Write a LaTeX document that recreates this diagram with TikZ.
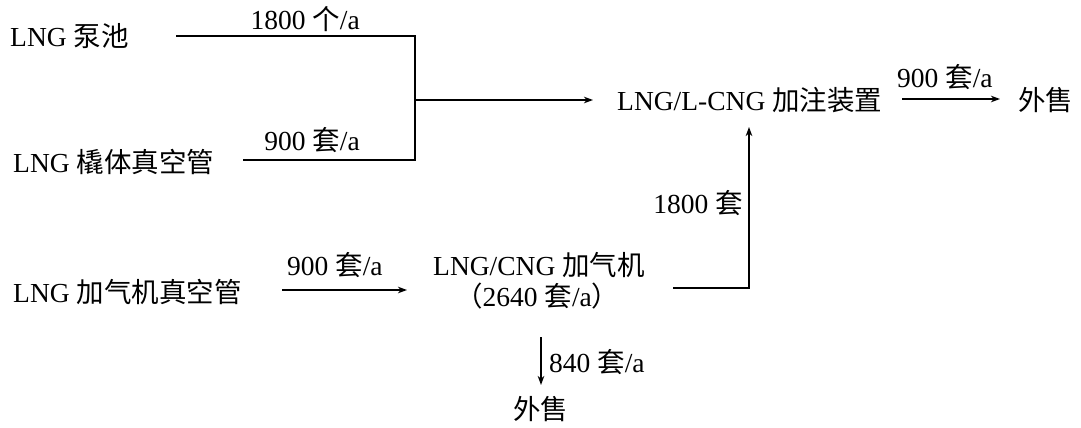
\documentclass[tikz,border=0pt]{standalone}
\usepackage{fontspec}
\setmainfont{Liberation Serif}
\newfontfamily\cjk{Noto Sans CJK SC}
\newcommand\zh[1]{{\cjk #1}}
\usetikzlibrary{arrows.meta}
\begin{document}
\begin{tikzpicture}[x=1pt,y=-1pt,
  txt/.style={inner sep=0pt,anchor=base west,font=\fontsize{27.5}{30}\selectfont},
  lbl/.style={inner sep=0pt,font=\fontsize{27.5}{30}\selectfont},
  flow/.style={line width=1.3pt},
  arr/.style={flow,-{Stealth[length=9pt,width=6.5pt,inset=2.5pt]}}]
\useasboundingbox (0,0) rectangle (1081,428);
% texts
\node[txt] (pump) at (10,47) {LNG \zh{泵池}};
\node[txt] (skid) at (13,172) {LNG \zh{橇体真空管}};
\node[txt] (fill) at (617,110) {LNG/L-CNG \zh{加注装置}};
\node[txt] (sale1) at (1018,110) {\zh{外售}};
\node[txt] (vac) at (13,302) {LNG \zh{加气机真空管}};
\node[txt] (disp) at (433,275) {LNG/CNG \zh{加气机}};
\node[txt] (cap) at (455,306) {\zh{（}2640 \zh{套}/a\zh{）}};
\node[txt] (sale2) at (513,419) {\zh{外售}};
% connector points
\coordinate (p1) at (176,36);
\coordinate (j1) at (415,36);
\coordinate (p2) at (243,160);
\coordinate (j2) at (415,160);
\coordinate (jm) at (415,100);
\coordinate (fa) at (593,100);
\coordinate (f1) at (902,99);
\coordinate (f2) at (1000,99);
\coordinate (v1) at (282,290);
\coordinate (v2) at (407,290);
\coordinate (d1) at (673,288);
\coordinate (d2) at (749,288);
\coordinate (d3) at (749,127);
\coordinate (s1) at (541,337);
\coordinate (s2) at (541,385);
% connectors
\draw[flow] (p1) -- (j1) -- (j2) -- (p2);
\draw[arr] (jm) -- (fa);
\draw[arr] (f1) -- (f2);
\draw[arr] (v1) -- (v2);
\draw[arr] (d1) -- (d2) -- (d3);
\draw[arr] (s1) -- (s2);
% labels
\node[lbl,anchor=base east] (l1) at (360,30) {1800 \zh{个}/a};
\node[lbl,anchor=base east] (l2) at (360,150) {900 \zh{套}/a};
\node[lbl,anchor=base west] (l3) at (897,88) {900 \zh{套}/a};
\node[lbl,anchor=base west] (l4) at (287,275) {900 \zh{套}/a};
\node[lbl,anchor=base east] (l5) at (743,213) {1800 \zh{套}};
\node[lbl,anchor=base west] (l6) at (549,372) {840 \zh{套}/a};
\end{tikzpicture}
\end{document}
